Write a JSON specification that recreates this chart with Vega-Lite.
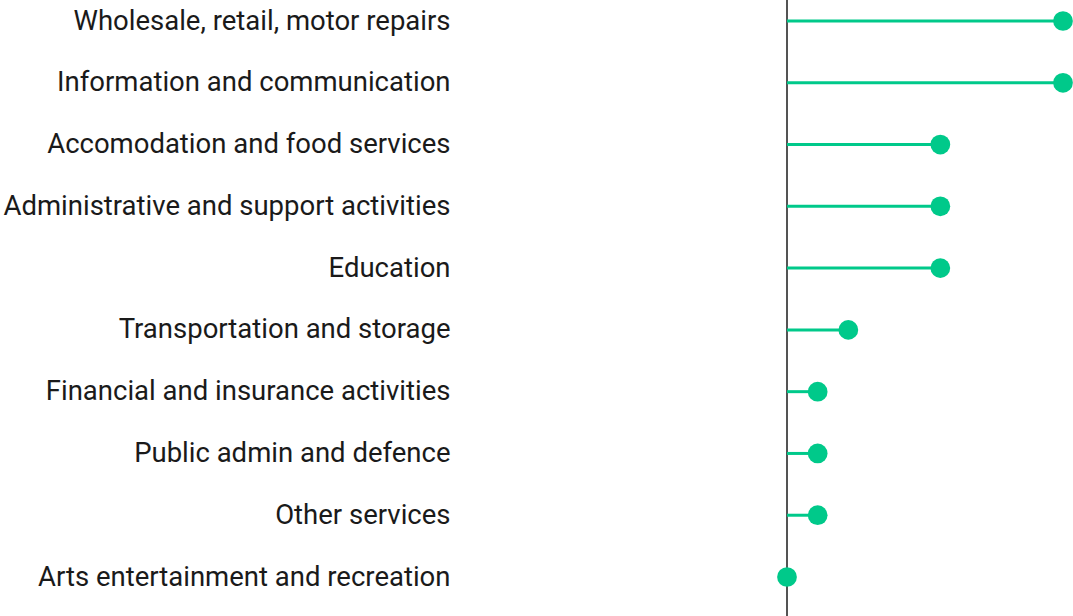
{
  "$schema": "https://vega.github.io/schema/vega-lite/v6.json",
  "width": 276,
  "height": 616,
  "autosize": "none",
  "padding": {"left": 787, "top": 0, "right": 10, "bottom": 0},
  "background": "white",
  "config": {"view": {"stroke": null}},
  "data": {
    "values": [
      {"sector": "Wholesale, retail, motor repairs", "value": 9},
      {"sector": "Information and communication", "value": 9},
      {"sector": "Accomodation and food services", "value": 5},
      {"sector": "Administrative and support activities", "value": 5},
      {"sector": "Education", "value": 5},
      {"sector": "Transportation and storage", "value": 2},
      {"sector": "Financial and insurance activities", "value": 1},
      {"sector": "Public admin and defence", "value": 1},
      {"sector": "Other services", "value": 1},
      {"sector": "Arts entertainment and recreation", "value": 0}
    ]
  },
  "layer": [
    {
      "mark": {"type": "rule", "color": "#555555", "strokeWidth": 1.5},
      "encoding": {
        "x": {"datum": 0, "type": "quantitative", "scale": {"domain": [0, 9], "nice": false}, "axis": null}
      }
    },
    {
      "mark": {"type": "rule", "color": "#00C98A", "strokeWidth": 3},
      "encoding": {
        "y": {
          "field": "sector", "type": "nominal", "sort": null,
          "scale": {"type": "point", "range": [21, 577], "padding": 0},
          "axis": {"title": null, "domain": false, "ticks": false, "grid": false, "labelPadding": 337, "labelFontSize": 27.5, "labelFont": "Roboto", "labelColor": "#1a1a1a", "labelLimit": 600}
        },
        "x": {"field": "value", "type": "quantitative"},
        "x2": {"datum": 0}
      }
    },
    {
      "mark": {"type": "circle", "size": 390, "opacity": 1, "color": "#00C98A"},
      "encoding": {
        "y": {"field": "sector", "type": "nominal", "sort": null},
        "x": {"field": "value", "type": "quantitative"}
      }
    }
  ]
}
